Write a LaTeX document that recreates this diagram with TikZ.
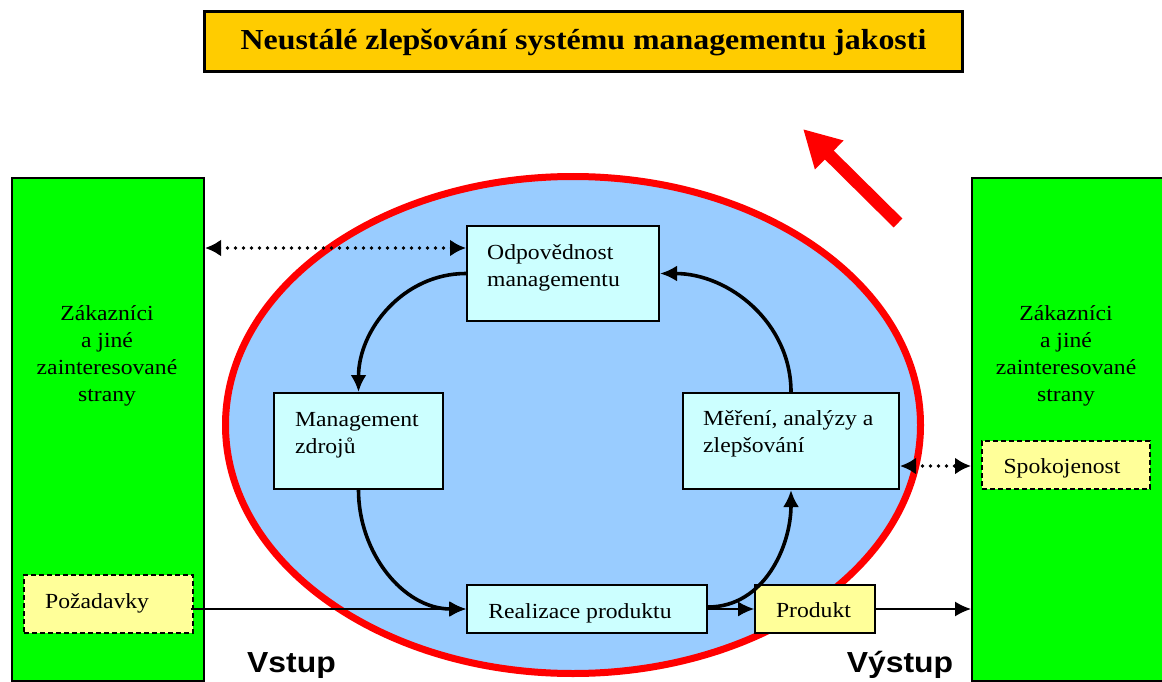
\documentclass[tikz,border=0pt]{standalone}
\usepackage{fontspec}
\setmainfont{Liberation Serif}[FakeStretch=1.1]
\newfontfamily\sansx{Liberation Sans}[FakeStretch=1.1]
\usetikzlibrary{arrows.meta,shapes.geometric}
\definecolor{titlefill}{HTML}{FFCC00}
\definecolor{grn}{HTML}{00FF00}
\definecolor{ovalfill}{HTML}{99CCFF}
\definecolor{cyanfill}{HTML}{CCFFFF}
\definecolor{yelfill}{HTML}{FFFF99}
\begin{document}
\begin{tikzpicture}[x=1pt,y=-1pt,
  bodyfont/.style={font=\fontsize{21.5}{27}\selectfont, inner sep=0pt},
  cbox/.style={draw=black, line width=2pt, fill=cyanfill, rectangle, inner sep=0pt},
  ybox/.style={draw=black, line width=1.8pt, fill=yelfill, rectangle, inner sep=0pt},
  dbox/.style={draw=black, line width=1.6pt, dash pattern=on 5pt off 3pt, fill=yelfill, rectangle, inner sep=0pt},
  greenbox/.style={draw=black, line width=2pt, fill=grn, rectangle, inner sep=0pt, anchor=north west},
  flow/.style={line width=3.6pt, -{Latex[length=17pt,width=16pt]}},
  plainarrow/.style={line width=1.6pt, -{Latex[length=16pt,width=15pt]}},
  dots/.style={line width=3.8pt, line cap=round, dash pattern=on 0pt off 8pt,
    {Latex[length=16pt,width=17pt]}-{Latex[length=16pt,width=17pt]}},
  bigtext/.style={font=\sansx\bfseries\fontsize{29}{34}\selectfont, inner sep=0pt, anchor=base}
]
\useasboundingbox (0,0) rectangle (1162,682);
\clip (0,0) rectangle (1162,682);

% title
\node[draw=black, line width=3.5pt, fill=titlefill, rectangle, inner sep=0pt,
      minimum width=758pt, minimum height=60pt] (title) at (583.5,41.5) {};
\node[font=\bfseries\fontsize{29}{34}\selectfont, inner sep=0pt, anchor=base] (titletext) at (583.5,50)
  {Neustálé zlepšování systému managementu jakosti};

% side blocks
\node[greenbox, minimum width=192pt, minimum height=503pt] (lgreen) at (11,177) {};
\node[greenbox, minimum width=230pt, minimum height=503pt] (rgreen) at (971,177) {};
\node[bodyfont, align=center, anchor=north] (ltext) at (107,301.1)
  {\strut Zákazníci\\a jiné\\zainteresované\\strany};
\node[bodyfont, align=center, anchor=north] (rtext) at (1066,301.1)
  {\strut Zákazníci\\a jiné\\zainteresované\\strany};

% oval
\node[draw=red, line width=7pt, fill=ovalfill, ellipse, inner sep=0pt,
      minimum width=695pt, minimum height=497pt] (oval) at (573,425) {};

% red arrow
\coordinate (redtail) at (898,223);
\coordinate (redtip) at (803,129);
\draw[red, line width=12.5pt, -{Triangle[length=37pt,width=38pt]}] (redtail) -- (redtip);

% process boxes
\node[cbox, minimum width=192pt, minimum height=95pt] (odp) at (563,273.5) {};
\node[cbox, minimum width=169pt, minimum height=96pt] (mz) at (358.5,441) {};
\node[cbox, minimum width=216pt, minimum height=96pt] (mer) at (791,441) {};
\node[cbox, minimum width=240pt, minimum height=48pt] (real) at (587,609) {};
\node[ybox, minimum width=120pt, minimum height=48pt] (prod) at (815,609) {};
\node[dbox, minimum width=169pt, minimum height=58pt] (poz) at (108.5,604) {};
\node[dbox, minimum width=168pt, minimum height=48pt] (spok) at (1066,465) {};

\node[bodyfont, align=left, anchor=north west] (odptext) at (487,240.1)
  {\strut Odpovědnost\\managementu};
\node[bodyfont, align=left, anchor=north west] (mztext) at (295,407.1)
  {\strut Management\\zdrojů};
\node[bodyfont, align=left, anchor=north west] (mertext) at (703,406.8)
  {\strut Měření, analýzy a\\zlepšování};
\node[bodyfont, anchor=base] (realtext) at (580,618) {Realizace produktu};
\node[bodyfont, anchor=base] (prodtext) at (813.5,617) {Produkt};
\node[bodyfont, anchor=base west] (poztext) at (45,608) {Požadavky};
\node[bodyfont, anchor=base] (spoktext) at (1062,473) {Spokojenost};

\node[bigtext] (vstup) at (291.5,672) {Vstup};
\node[bigtext] (vystup) at (900,672) {Výstup};

% cycle arrows
\draw[flow] (odp.west) to[out=180,in=90] (mz.north);
\draw[flow] (mz.south) to[out=-90,in=180] (real.west);
\draw[flow] ([yshift=2pt]real.east) to[out=0,in=-90] (mer.south);
\draw[flow] (mer.north) to[out=90,in=0] (odp.east);

% straight arrows
\draw[plainarrow] ([xshift=-3pt]poz.east |- real.west) -- (real.west);
\draw[plainarrow] (real.east) -- (prod.west);
\draw[plainarrow] (prod.east) -- (prod.east -| rgreen.west);

% dotted links
\draw[dots] ([yshift=-23pt]odp.north west -| lgreen.east) -- ([yshift=-23pt]odp.north west);
\draw[dots] ([yshift=24pt]mer.south east) -- ([yshift=24pt]mer.south east -| rgreen.west);
\end{tikzpicture}
\end{document}
